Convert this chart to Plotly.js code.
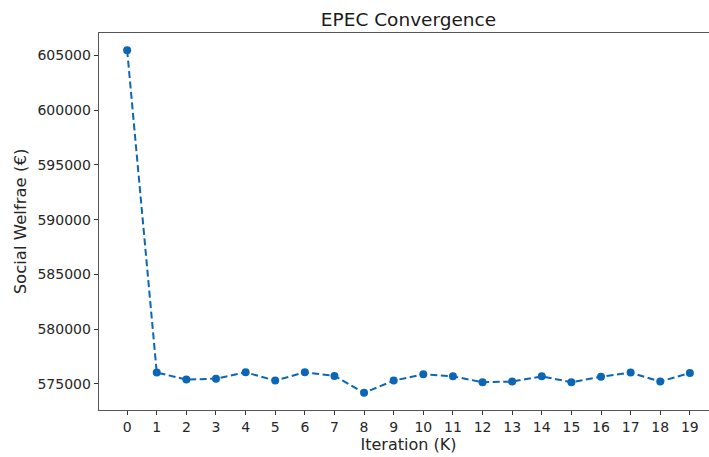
<!DOCTYPE html>
<html>
<head>
<meta charset="utf-8">
<script src="https://cdn.plot.ly/plotly-3.0.1.min.js"></script>
<style>
  html, body { margin: 0; padding: 0; overflow: hidden; background: #fff; }
  #chart { width: 720px; height: 457px; }
</style>
</head>
<body>
<div id="chart"></div>
<script>
// Social welfare reached at each EPEC iteration
const iterations = [0, 1, 2, 3, 4, 5, 6, 7, 8, 9, 10, 11, 12, 13, 14, 15, 16, 17, 18, 19];
const welfare = [605480, 576040, 575390, 575480, 576060, 575300, 576060, 575730, 574180, 575300,
                 575880, 575690, 575150, 575210, 575690, 575150, 575660, 576030, 575210, 576000];
const yTicks = [575000, 580000, 585000, 590000, 595000, 600000, 605000];

const blue = '#0b66b6';
const font = 'DejaVu Sans, sans-serif';

const trace = {
  x: iterations,
  y: welfare,
  type: 'scatter',
  mode: 'lines+markers',
  line: { color: blue, width: 2, dash: '7px,3.5px' },
  marker: { color: blue, size: 8 },
  cliponaxis: false
};

const layout = {
  width: 720,
  height: 457,
  margin: { l: 99, r: 2, t: 33, b: 47 },
  paper_bgcolor: '#fff',
  plot_bgcolor: '#fff',
  showlegend: false,
  font: { family: font, color: '#262626', size: 14 },
  title: {
    text: 'EPEC Convergence',
    font: { family: font, size: 18.5, color: '#1a1a1a' },
    x: 0.5, xanchor: 'center', xref: 'paper',
    y: 1, yref: 'paper', yanchor: 'bottom', pad: { b: 7 }
  },
  xaxis: {
    range: [-0.95, 19.95],
    tickmode: 'array',
    tickvals: iterations,
    ticktext: iterations.map(String),
    ticks: 'outside', ticklen: 4, tickwidth: 1, tickcolor: '#333',
    showgrid: false, zeroline: false,
    showline: true, linecolor: '#555', linewidth: 1.3, mirror: true,
    tickfont: { family: font, size: 14, color: '#262626' },
    title: { text: 'Iteration (K)', font: { family: font, size: 16, color: '#262626' }, standoff: 3 }
  },
  yaxis: {
    range: [572615, 607045],
    tickmode: 'array',
    tickvals: yTicks,
    ticktext: yTicks.map(String),
    ticks: 'outside', ticklen: 4, tickwidth: 1, tickcolor: '#333',
    showgrid: false, zeroline: false,
    showline: true, linecolor: '#555', linewidth: 1.3, mirror: true,
    tickfont: { family: font, size: 14, color: '#262626' },
    title: { text: 'Social Welfrae (€)', font: { family: font, size: 16.5, color: '#262626' }, standoff: 6 }
  }
};

Plotly.newPlot('chart', [trace], layout, { displayModeBar: false, staticPlot: true });
</script>
</body>
</html>
